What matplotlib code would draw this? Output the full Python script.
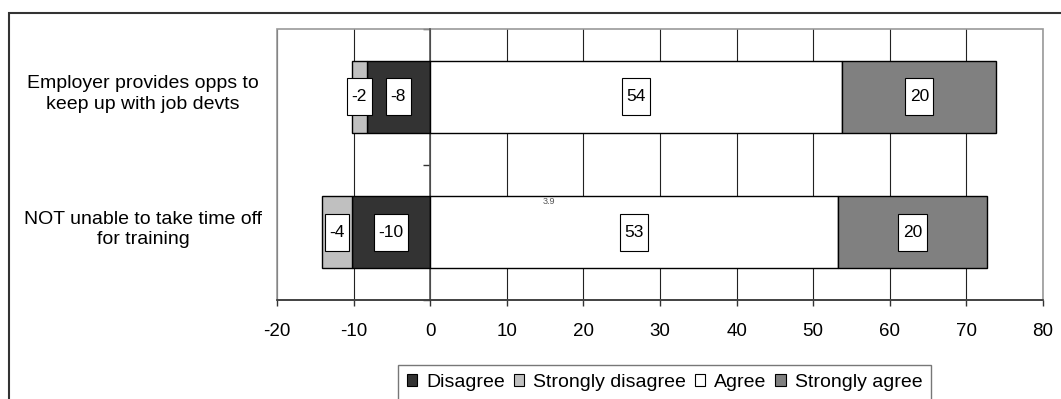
import matplotlib
matplotlib.use("Agg")
import matplotlib.pyplot as plt
from matplotlib.patches import Patch, Rectangle
from matplotlib.path import Path
from matplotlib.transforms import blended_transform_factory
import numpy as np

plt.rcParams['font.family'] = ['Liberation Sans', 'DejaVu Sans']

# ---- data ----
categories = ["Employer provides opps to\nkeep up with job devts",
              "NOT unable to take time off\nfor training"]
disagree = [8.3, 10.2]
strongly_disagree = [1.9, 3.9]
agree = [53.8, 53.2]
strongly_agree = [20.1, 19.5]
series_names = ["Disagree", "Strongly disagree", "Agree", "Strongly agree"]
series_colors = ["#333333", "#c0c0c0", "#ffffff", "#808080"]
xticks = [-20, -10, 0, 10, 20, 30, 40, 50, 60, 70, 80]
stray_text = "3.9"
stray_pos = (15.5, 0.77)

W, H = 1061, 399
fig = plt.figure(figsize=(W / 100, H / 100), dpi=100)
ax = fig.add_axes([277 / W, 1 - 300 / H, (1043 - 277) / W, (300 - 29) / H])

y = np.arange(len(categories))
bh = 0.53
d = np.array(disagree)
sd = np.array(strongly_disagree)
a = np.array(agree)
sa = np.array(strongly_agree)

ax.barh(y, -d, height=bh, left=0, color=series_colors[0], edgecolor='black', lw=1, zorder=3)
ax.barh(y, -sd, height=bh, left=-d, color=series_colors[1], edgecolor='black', lw=1, zorder=3)
ax.barh(y, a, height=bh, left=0, color=series_colors[2], edgecolor='black', lw=1, zorder=3)
ax.barh(y, sa, height=bh, left=a, color=series_colors[3], edgecolor='black', lw=1, zorder=3)


def label_box(x0, y0, width, height, mutation_size):
    padx = 4.5
    total_h = 37.0
    cy = y0 + height / 2
    xa, xb = x0 - padx, x0 + width + padx
    ya, yb = cy - total_h / 2, cy + total_h / 2
    return Path([(xa, ya), (xb, ya), (xb, yb), (xa, yb), (xa, ya)],
                [Path.MOVETO, Path.LINETO, Path.LINETO, Path.LINETO, Path.CLOSEPOLY])


def put_label(xc, yc, val):
    ax.text(xc, yc, f"{val:.0f}", ha='center', va='center', fontsize=12.5, zorder=5,
            bbox=dict(boxstyle=label_box, fc='white', ec='black', lw=0.8))


for i in range(len(categories)):
    put_label(-d[i] / 2, y[i], -d[i])
    put_label(-d[i] - sd[i] / 2, y[i], -sd[i])
    put_label(a[i] / 2, y[i], a[i])
    put_label(a[i] + sa[i] / 2, y[i], sa[i])

ax.text(stray_pos[0], stray_pos[1], stray_text, fontsize=6.5, color='#555555',
        ha='center', va='center', zorder=4)

ax.set_xlim(-20, 80)
ax.set_ylim(1.5, -0.5)
ax.set_xticks(xticks)
ax.set_xticklabels([str(t) for t in xticks], fontsize=13.5)
ax.xaxis.grid(True, color='#222222', lw=0.8, zorder=0)
ax.set_axisbelow(True)

ax.tick_params(axis='x', direction='out', length=4.5, width=1, color='#333333', pad=12)
ax.spines['left'].set_position(('data', 0))
ax.spines['left'].set_color('#555555')
ax.spines['left'].set_linewidth(1.2)
ax.spines['left'].set_zorder(2)
ax.set_yticks([-0.5, 0.5, 1.5])
ax.set_yticklabels([])
ax.tick_params(axis='y', direction='out', length=5, width=1, color='#333333')
ax.spines['bottom'].set_color('#333333')
ax.spines['bottom'].set_linewidth(1.2)
for s in ['top', 'right']:
    ax.spines[s].set_visible(False)

# plot area border (gray)
ax.add_patch(Rectangle((0, 0), 1, 1, transform=ax.transAxes, fill=False,
                       ec='#999999', lw=1.2, zorder=1, clip_on=False))

# category labels
tr = blended_transform_factory(ax.transAxes, ax.transData)
for i, c in enumerate(categories):
    ax.text(-(277 - 143) / (1043 - 277), y[i] - 0.02, c, transform=tr, ha='center', va='center',
            multialignment='center', fontsize=14, linespacing=1.3)

# legend
handles = [Patch(fc=col, ec='black', lw=0.8) for col in series_colors]
leg = fig.legend(handles, series_names, loc='upper left',
                 bbox_to_anchor=(398 / W, 1 - 365 / H), ncol=4, fontsize=14,
                 frameon=True, fancybox=False, edgecolor='#555555', borderaxespad=0,
                 handlelength=0.55, handleheight=0.55, handletextpad=0.45,
                 columnspacing=0.45, borderpad=0.45)
leg.get_frame().set_linewidth(1)

# figure frame
fig.add_artist(Rectangle((9 / W, -0.2), 1.2, 1 - 13 / H + 0.2, transform=fig.transFigure,
                         fill=False, ec='#333333', lw=1.5))

fig.savefig("out.png", dpi=100)
